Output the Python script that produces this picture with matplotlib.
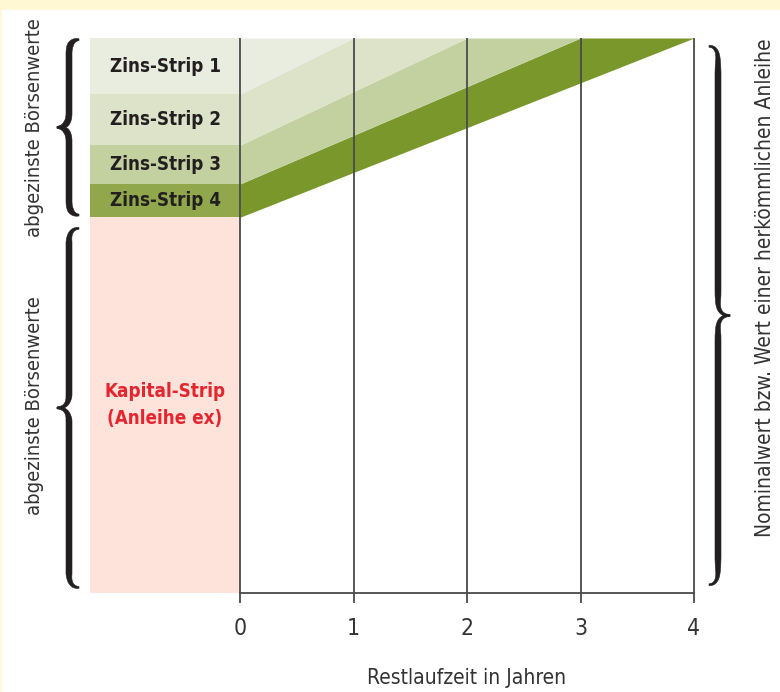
import numpy as np
import matplotlib
matplotlib.use("Agg")
import matplotlib.pyplot as plt
from matplotlib.patches import Polygon, Rectangle

plt.rcParams['font.family'] = ['DejaVu Sans']
plt.rcParams['font.stretch'] = 'condensed'

# --- data -----------------------------------------------------------------
years = [0, 1, 2, 3, 4]
strip_labels = ["Zins-Strip 1", "Zins-Strip 2", "Zins-Strip 3", "Zins-Strip 4"]
# value at year 0 of the boundaries (bottom of kapital strip = 0, nominal = 100)
kapital_value = 67.7
boundary_start = [67.7, 73.7, 80.7, 89.9]   # lower edge of strip 4, 3, 2, 1
boundary_maturity = [4, 3, 2, 1]            # year where the boundary reaches nominal
nominal = 100

band_colors = ["#7A972B", "#C3D0A0", "#DCE3C9", "#E9EDDF"]   # strip 4, 3, 2, 1
box_colors = ["#90A84B", "#C3D0A0", "#DCE3C9", "#E9EDDF"]
kapital_color = "#FDE3DA"
line_color = "#4a4a4a"
text_color = "#333333"

# --- figure ---------------------------------------------------------------
fig = plt.figure(figsize=(7.8, 6.92), dpi=100, facecolor="#FFF8D3")
fig.patches.append(Rectangle((2 / 780, 0), 1, (692 - 10) / 692,
                             transform=fig.transFigure, color="white", zorder=-10))

ax = fig.add_axes([240 / 780, (692 - 593) / 692, 454 / 780, 555 / 692])
ax.set_zorder(5)
ax.set_xlim(0, 4)
ax.set_ylim(0, nominal)
ax.patch.set_alpha(0)

# pixels per data unit
sx = 454 / 4
sy = 555 / nominal

x = np.array(years, dtype=float)


def boundary(v0, m):
    return np.minimum(nominal, v0 + (nominal - v0) * x / m)


lines = [boundary(v, m) for v, m in zip(boundary_start, boundary_maturity)]
lines.append(np.full_like(x, nominal))
for i in range(4):
    ax.fill_between(x, lines[i], lines[i + 1], color=band_colors[i], lw=0, zorder=1)

# left boxes: kapital strip and zins strips
box_x = -150 / sx
ax.bar(box_x / 2, kapital_value, width=-box_x, bottom=0, color=kapital_color,
       clip_on=False, zorder=1, lw=0)
edges = boundary_start + [nominal]
for i in range(4):
    ax.bar(box_x / 2, edges[i + 1] - edges[i], width=-box_x, bottom=edges[i],
           color=box_colors[i], clip_on=False, zorder=1, lw=0)
    ax.text(box_x / 2, (edges[i] + edges[i + 1]) / 2, strip_labels[3 - i],
            ha="center", va="center", fontsize=13.5, fontweight="bold",
            color="#231f20", zorder=3)

ax.text(box_x / 2, kapital_value * 0.5, "Kapital-Strip\n(Anleihe ex)",
        ha="center", va="center", fontsize=13.5, fontweight="bold",
        color="#E3262F", linespacing=1.55, zorder=3)

# grid lines
ax.vlines(years, 0, nominal, color=line_color, lw=1.3, zorder=2, clip_on=False)

for s in ["top", "left", "right"]:
    ax.spines[s].set_visible(False)
ax.spines["bottom"].set_color(line_color)
ax.spines["bottom"].set_linewidth(1.3)
ax.set_yticks([])
ax.set_xticks(years)
ax.tick_params(axis="x", direction="out", length=7.5, width=1.3, color=line_color,
               pad=10, labelsize=16.5, labelcolor=text_color)
ax.set_xlabel("Restlaufzeit in Jahren", fontsize=15, color=text_color, labelpad=20)


# --- braces ---------------------------------------------------------------
def qbez(p0, p1, p2, n=30):
    t = np.linspace(0, 1, n)[:, None]
    return (1 - t) ** 2 * np.array(p0) + 2 * (1 - t) * t * np.array(p1) + t ** 2 * np.array(p2)


def brace(ax, x_stem, x_tip, x_end, y0, y1, wmax=6.0, wmin=1.8):
    # work in pixel units so the stroke width is even, then go back to data
    xs, xt, xe = x_stem * sx, x_tip * sx, x_end * sx
    a, b = y0 * sy, y1 * sy
    ym = (a + b) / 2
    r = 14
    for yend, sgn in [(b, -1), (a, 1)]:
        p1 = qbez((xe, yend), (xs, yend), (xs, yend + sgn * r))
        p2 = np.linspace((xs, yend + sgn * r), (xs, ym - sgn * r), 40)
        p3 = qbez((xs, ym - sgn * r), (xs, ym), (xt, ym))
        c = np.vstack([p1, p2[1:], p3[1:]])
        seg = np.diff(c, axis=0)
        s = np.concatenate([[0], np.cumsum(np.hypot(seg[:, 0], seg[:, 1]))])
        s = s / s[-1]
        tang = np.gradient(c, axis=0)
        tang /= np.hypot(tang[:, 0], tang[:, 1])[:, None]
        norm = np.column_stack([-tang[:, 1], tang[:, 0]])
        w = wmin + (wmax - wmin) * np.minimum(1, s / 0.1) * np.minimum(1, (1 - s) / 0.1)
        w = np.maximum(w, 0.8)
        poly = np.vstack([c + norm * w[:, None] / 2, (c - norm * w[:, None] / 2)[::-1]])
        data = np.column_stack([poly[:, 0] / sx, poly[:, 1] / sy])
        ax.add_patch(Polygon(data, closed=True, color="#231f20", lw=0.4,
                             clip_on=False, zorder=3))


brace(ax, -171 / sx, -183 / sx, -161 / sx, kapital_value + 0.4, nominal - 0.3)
brace(ax, -171 / sx, -183 / sx, -161 / sx, 1, kapital_value - 2)
brace(ax, 478 / sx, 490 / sx, 469 / sx, 1.5, nominal - 1.5)

ax.text(-205 / sx, (kapital_value + nominal) / 2, "abgezinste Börsenwerte",
        rotation=90, ha="center", va="center", fontsize=14.5, color=text_color)
ax.text(-205 / sx, kapital_value / 2, "abgezinste Börsenwerte",
        rotation=90, ha="center", va="center", fontsize=14.5, color=text_color)
ax.text(525 / sx, nominal / 2 + 5, "Nominalwert bzw. Wert einer herkömmlichen Anleihe",
        rotation=90, ha="center", va="center", fontsize=15, color=text_color)

fig.savefig("out.png", dpi=100, facecolor=fig.get_facecolor())
